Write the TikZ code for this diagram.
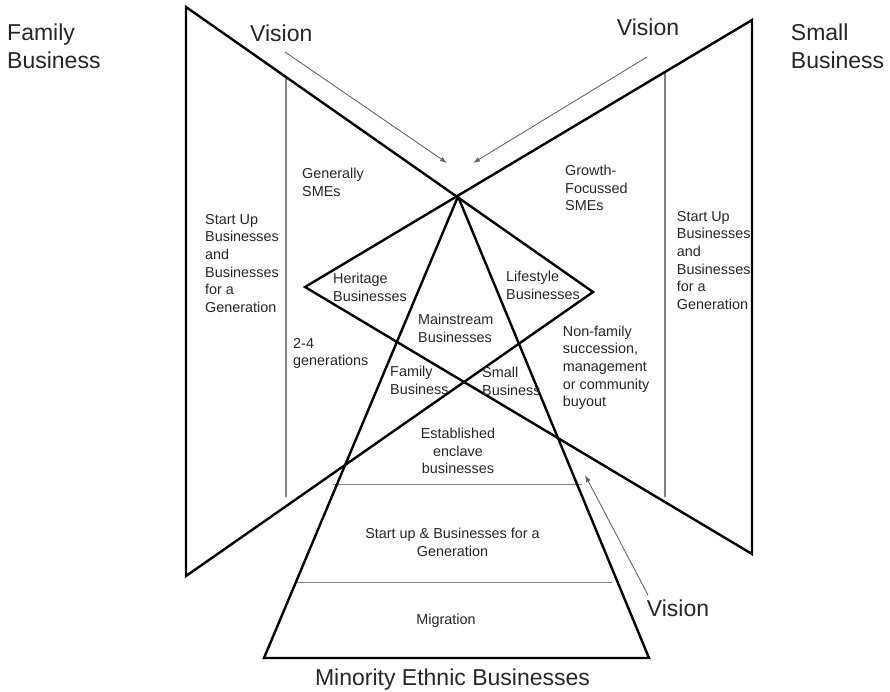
\documentclass[tikz,border=0pt]{standalone}
\usepackage{fontspec}
\setmainfont{Liberation Sans}
\usetikzlibrary{arrows.meta}
\begin{document}
\begin{tikzpicture}[x=1pt,y=-1pt,
  bigline/.style={line width=2.4pt, black, line join=miter},
  greyline/.style={line width=1.3pt, black!50},
  visarrow/.style={line width=0.9pt, black!60, -{Latex[length=7pt,width=5pt]}},
  smalltxt/.style={inner sep=0pt, align=left, text=black!85, font=\fontsize{14.4}{17.7}\selectfont},
  bigtxt/.style={inner sep=0pt, align=left, text=black!85, font=\fontsize{23}{28.3}\selectfont}]
\useasboundingbox (0,0) rectangle (890,692);
% main vertices
\coordinate (TL) at (186,7);
\coordinate (BL) at (186,576);
\coordinate (TR) at (752,20);
\coordinate (BR) at (752,554);
\coordinate (C)  at (458,196.5);
\coordinate (H)  at (305,287);
\coordinate (L)  at (593,292);
\coordinate (PL) at (264,658);
\coordinate (PR) at (649,658);
% grey dividers
\coordinate (VL1) at (286,77);  \coordinate (VL2) at (286,497);
\coordinate (VR1) at (665,72);  \coordinate (VR2) at (665,497);
\coordinate (HA1) at (333,484.5); \coordinate (HA2) at (582,484.5);
\coordinate (HB1) at (297,582.5); \coordinate (HB2) at (612,582.5);
\draw[greyline] (VL1) -- (VL2);
\draw[greyline] (VR1) -- (VR2);
\draw[greyline] (HA1) -- (HA2);
\draw[greyline] (HB1) -- (HB2);
% big shapes
\draw[bigline] (TL) -- (L) -- (BL) -- cycle;
\draw[bigline] (TR) -- (H) -- (BR) -- cycle;
\draw[bigline] (C) -- (PL) -- (PR) -- cycle;
% titles
\node[bigtxt, anchor=north west] (famb) at (7,23.5) {Family\\Business};
\node[bigtxt, anchor=north west] (smlb) at (790.7,23.5) {Small\\Business};
\node[bigtxt, anchor=north] (meb) at (452.5,668.5) {Minority Ethnic Businesses};
\node[bigtxt, anchor=north west] (vis1) at (250,25) {Vision};
\node[bigtxt, anchor=north west] (vis2) at (616.7,18.5) {Vision};
\node[bigtxt, anchor=north west] (vis3) at (646.7,600) {Vision};
% vision arrows
\coordinate (a1s) at (285,52);  \coordinate (a1e) at (447,163);
\coordinate (a2s) at (647,57);  \coordinate (a2e) at (473,163);
\coordinate (a3s) at (648,595); \coordinate (a3e) at (585,475);
\draw[visarrow] (a1s) -- (a1e);
\draw[visarrow] (a2s) -- (a2e);
\draw[visarrow] (a3s) -- (a3e);
% labels
\node[smalltxt, anchor=north west] (gen) at (302,167.8) {Generally\\SMEs};
\node[smalltxt, anchor=north west] (grow) at (565,164.8) {Growth-\\Focussed\\SMEs};
\node[smalltxt, anchor=north west] (sul) at (205,213.8) {Start Up\\Businesses\\and\\Businesses\\for a\\Generation};
\node[smalltxt, anchor=north west] (sur) at (676.7,210.8) {Start Up\\Businesses\\and\\Businesses\\for a\\Generation};
\node[smalltxt, anchor=north west] (her) at (333,272.8) {Heritage\\Businesses};
\node[smalltxt, anchor=north west] (life) at (506,270.8) {Lifestyle\\Businesses};
\node[smalltxt, anchor=north west] (main) at (418,313.8) {Mainstream\\Businesses};
\node[smalltxt, anchor=north west] (gens) at (293,337.8) {2-4\\generations};
\node[smalltxt, anchor=north west] (fam) at (390,365.8) {Family\\Business};
\node[smalltxt, anchor=north west] (sml) at (482,366.8) {Small\\Business};
\node[smalltxt, anchor=north west] (nonf) at (562.7,325.5) {Non-family\\succession,\\management\\or community\\buyout};
\node[smalltxt, align=center, anchor=north] (est) at (458,427.8) {Established\\enclave\\businesses};
\node[smalltxt, align=center, anchor=north] (sup) at (452.5,527.8) {Start up \& Businesses for a\\Generation};
\node[smalltxt, align=center, anchor=north] (mig) at (446,613.8) {Migration};
\end{tikzpicture}
\end{document}
